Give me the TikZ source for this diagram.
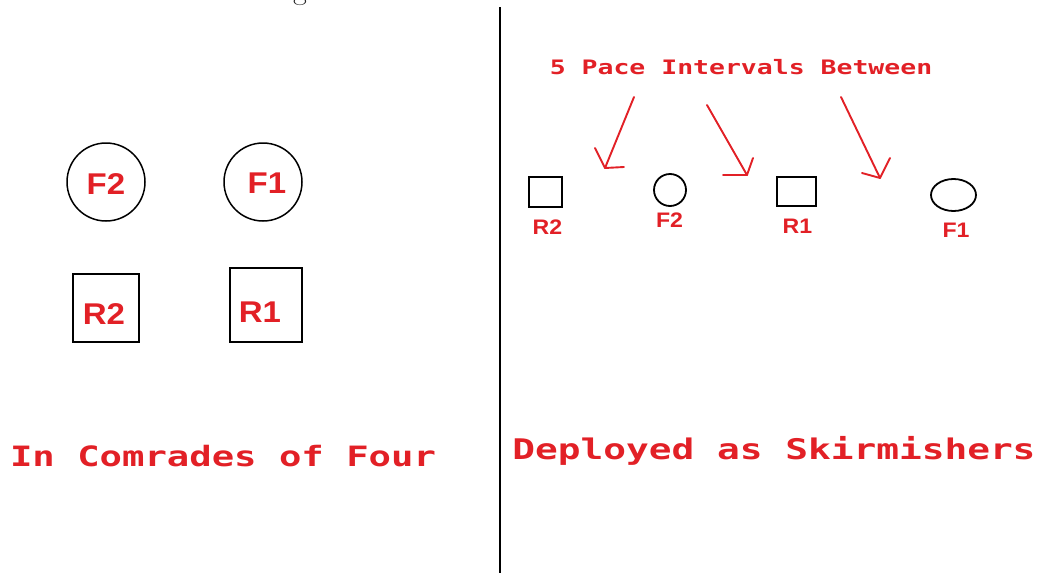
\documentclass[tikz,border=0pt]{standalone}
\usepackage{fontspec}
\usetikzlibrary{shapes.geometric}
% wide bold monospace for captions, Arial-like bold for unit labels
\newfontfamily\capfont[FakeStretch=1.33]{DejaVu Sans Mono}
\newfontfamily\labfont[FakeStretch=1.1]{Liberation Sans}
\definecolor{mark}{RGB}{226,32,38}
\tikzset{
  caption/.style={text=mark, inner sep=0pt, anchor=base},
  lbl/.style={text=mark, inner sep=0pt},
  biglbl/.style={lbl, font=\labfont\bfseries\fontsize{30}{32}\selectfont},
  smalllbl/.style={lbl, font=\labfont\bfseries\fontsize{21}{23}\selectfont},
  man/.style={draw=black, inner sep=0pt, line width=1.8pt},
  pointer/.style={draw=mark, line width=1.9pt, line cap=round, line join=round},
}
\begin{document}
\begin{tikzpicture}[x=1pt,y=-1pt]
\useasboundingbox (0,0) rectangle (1038,573);
\fill[white] (0,0) rectangle (1038,573);

% remnant of a heading above the frame
\begin{scope}
  \clip (0,0) rectangle (1038,573);
  \node[font=\fontsize{30}{32}\selectfont, text=black!85, anchor=base, inner sep=0pt] (head) at (300,-1) {g};
\end{scope}

% divider between the two formations
\coordinate (divtop) at (500,7);
\coordinate (divbot) at (500,573);
\draw[line width=2.4pt] (divtop) -- (divbot);

% ---- left: comrades of four ----
\node[man, circle, line width=1.5pt, minimum size=78pt] (lf2) at (106,182) {};
\node[man, circle, line width=1.5pt, minimum size=78pt] (lf1) at (263,182) {};
\node[man, rectangle, minimum width=66pt, minimum height=68pt] (lr2) at (106,308) {};
\node[man, rectangle, minimum width=72pt, minimum height=74pt] (lr1) at (266,305) {};
\node[biglbl] (tlf2) at (106,184) {F2};
\node[biglbl] (tlf1) at (267,183) {F1};
\node[biglbl] (tlr2) at (104,314) {R2};
\node[biglbl] (tlr1) at (260,312) {R1};
\node[caption, font=\capfont\bfseries\fontsize{28}{30}\selectfont] (capl) at (223,466.5) {In Comrades of Four};

% ---- right: deployed as skirmishers ----
\node[man, rectangle, minimum width=33pt, minimum height=30pt] (rr2) at (545.5,192) {};
\node[man, ellipse, minimum width=32pt, minimum height=32pt] (rf2) at (670,190) {};
\node[man, rectangle, minimum width=39pt, minimum height=29pt] (rr1) at (796.5,191.5) {};
\node[man, ellipse, minimum width=45pt, minimum height=32pt] (rf1) at (953.5,195) {};
\node[smalllbl] (trr2) at (547.5,227.5) {R2};
\node[smalllbl] (trf2) at (669.5,220.5) {F2};
\node[smalllbl] (trr1) at (797.5,226) {R1};
\node[smalllbl] (trf1) at (956,230.5) {F1};

\node[caption, font=\capfont\bfseries\fontsize{19.9}{22}\selectfont] (gap) at (741,74.5) {5 Pace Intervals Between};
\node[caption, font=\capfont\bfseries\fontsize{28.4}{30}\selectfont] (capr) at (774,459) {Deployed as Skirmishers};

% pointers into the intervals: shaft, then an open two-stroke head
\coordinate (p1s) at (634,97);  \coordinate (p1e) at (605,168);
\coordinate (p1a) at (595,148); \coordinate (p1b) at (624,167);
\coordinate (p2s) at (707,105); \coordinate (p2e) at (747,175);
\coordinate (p2a) at (753,158); \coordinate (p2b) at (723,175);
\coordinate (p3s) at (841,97);  \coordinate (p3e) at (880,178);
\coordinate (p3a) at (890,158); \coordinate (p3b) at (862,173);
\draw[pointer] (p1s) -- (p1e);
\draw[pointer] (p1a) -- (p1e) -- (p1b);
\draw[pointer] (p2s) -- (p2e);
\draw[pointer] (p2a) -- (p2e) -- (p2b);
\draw[pointer] (p3s) -- (p3e);
\draw[pointer] (p3a) -- (p3e) -- (p3b);
\end{tikzpicture}
\end{document}
